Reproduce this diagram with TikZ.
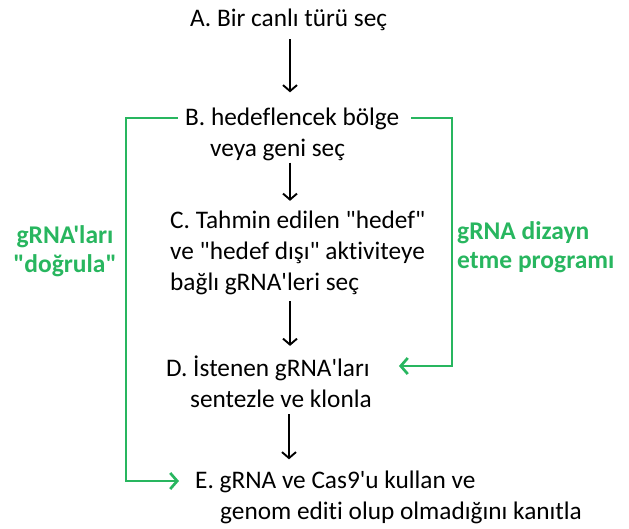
\documentclass[tikz,border=0pt]{standalone}
\usepackage{fontspec}
\setmainfont{Carlito}[Ligatures={TeXOff,NoCommon}]
\usetikzlibrary{arrows.meta,positioning}

\definecolor{grn}{RGB}{40,182,95}

\begin{document}
\begin{tikzpicture}[x=1pt,y=-1pt]
        \tikzstyle{stepbox}=[anchor=west, inner sep=0pt, align=left, font=\fontsize{25.3}{31}\selectfont]
        \tikzstyle{note}=[inner sep=0pt, text=grn, font=\fontsize{25.5}{29}\selectfont\bfseries]
        \tikzstyle{connect}=[-{Straight Barb[length=6pt,width=14pt]}, line width=1.9pt, black]
        \tikzstyle{feedback}=[-{Straight Barb[length=7pt,width=16pt]}, line width=2.7pt, grn]
        \useasboundingbox (0,0) rectangle (629,528);
        \node[stepbox] (a) at (190,20) {A. Bir canlı türü seç};
        \node[stepbox] (b) at (185,134) {B. hedeflencek bölge\\\hspace*{25pt}veya geni seç};
        \node[stepbox] (c) at (170,253) {C. Tahmin edilen "hedef"\\ve "hedef dışı" aktiviteye\\bağlı gRNA'leri seç};
        \node[stepbox] (d) at (166,382) {D. İstenen gRNA'ları\\\hspace*{24pt}sentezle ve klonla};
        \node[stepbox] (e) at (195,497) {E. gRNA ve Cas9'u kullan ve\\\hspace*{25pt}genom editi olup olmadığını kanıtla};
        \node[note, align=center] (verify) at (65,251) {gRNA'ları\\"doğrula"};
        \node[note, anchor=west, align=left] (design) at (457,247) {gRNA dizayn\\etme programı};
        \draw[connect, shorten <=8pt, shorten >=15pt] (a.south -| 290,0) -- (b.north -| 290,0);
        \draw[connect, shorten <=2pt, shorten >=10pt] (b.south -| 290,0) -- (c.north -| 290,0);
        \draw[connect, shorten <=6pt, shorten >=10pt] (c.south -| 290,0) -- (d.north -| 290,0);
        \draw[connect, shorten <=6pt, shorten >=11pt] (d.south -| 289,0) -- (e.north -| 289,0);
        \draw[feedback] ([xshift=-7pt,yshift=16pt]b.west) -| (126,300) |- ([xshift=-16pt,yshift=16pt]e.west);
        \draw[feedback] ([xshift=12pt,yshift=16pt]b.east) -| (452,300) |- ([xshift=27pt,yshift=16pt]d.east);
      \end{tikzpicture}
\end{document}
